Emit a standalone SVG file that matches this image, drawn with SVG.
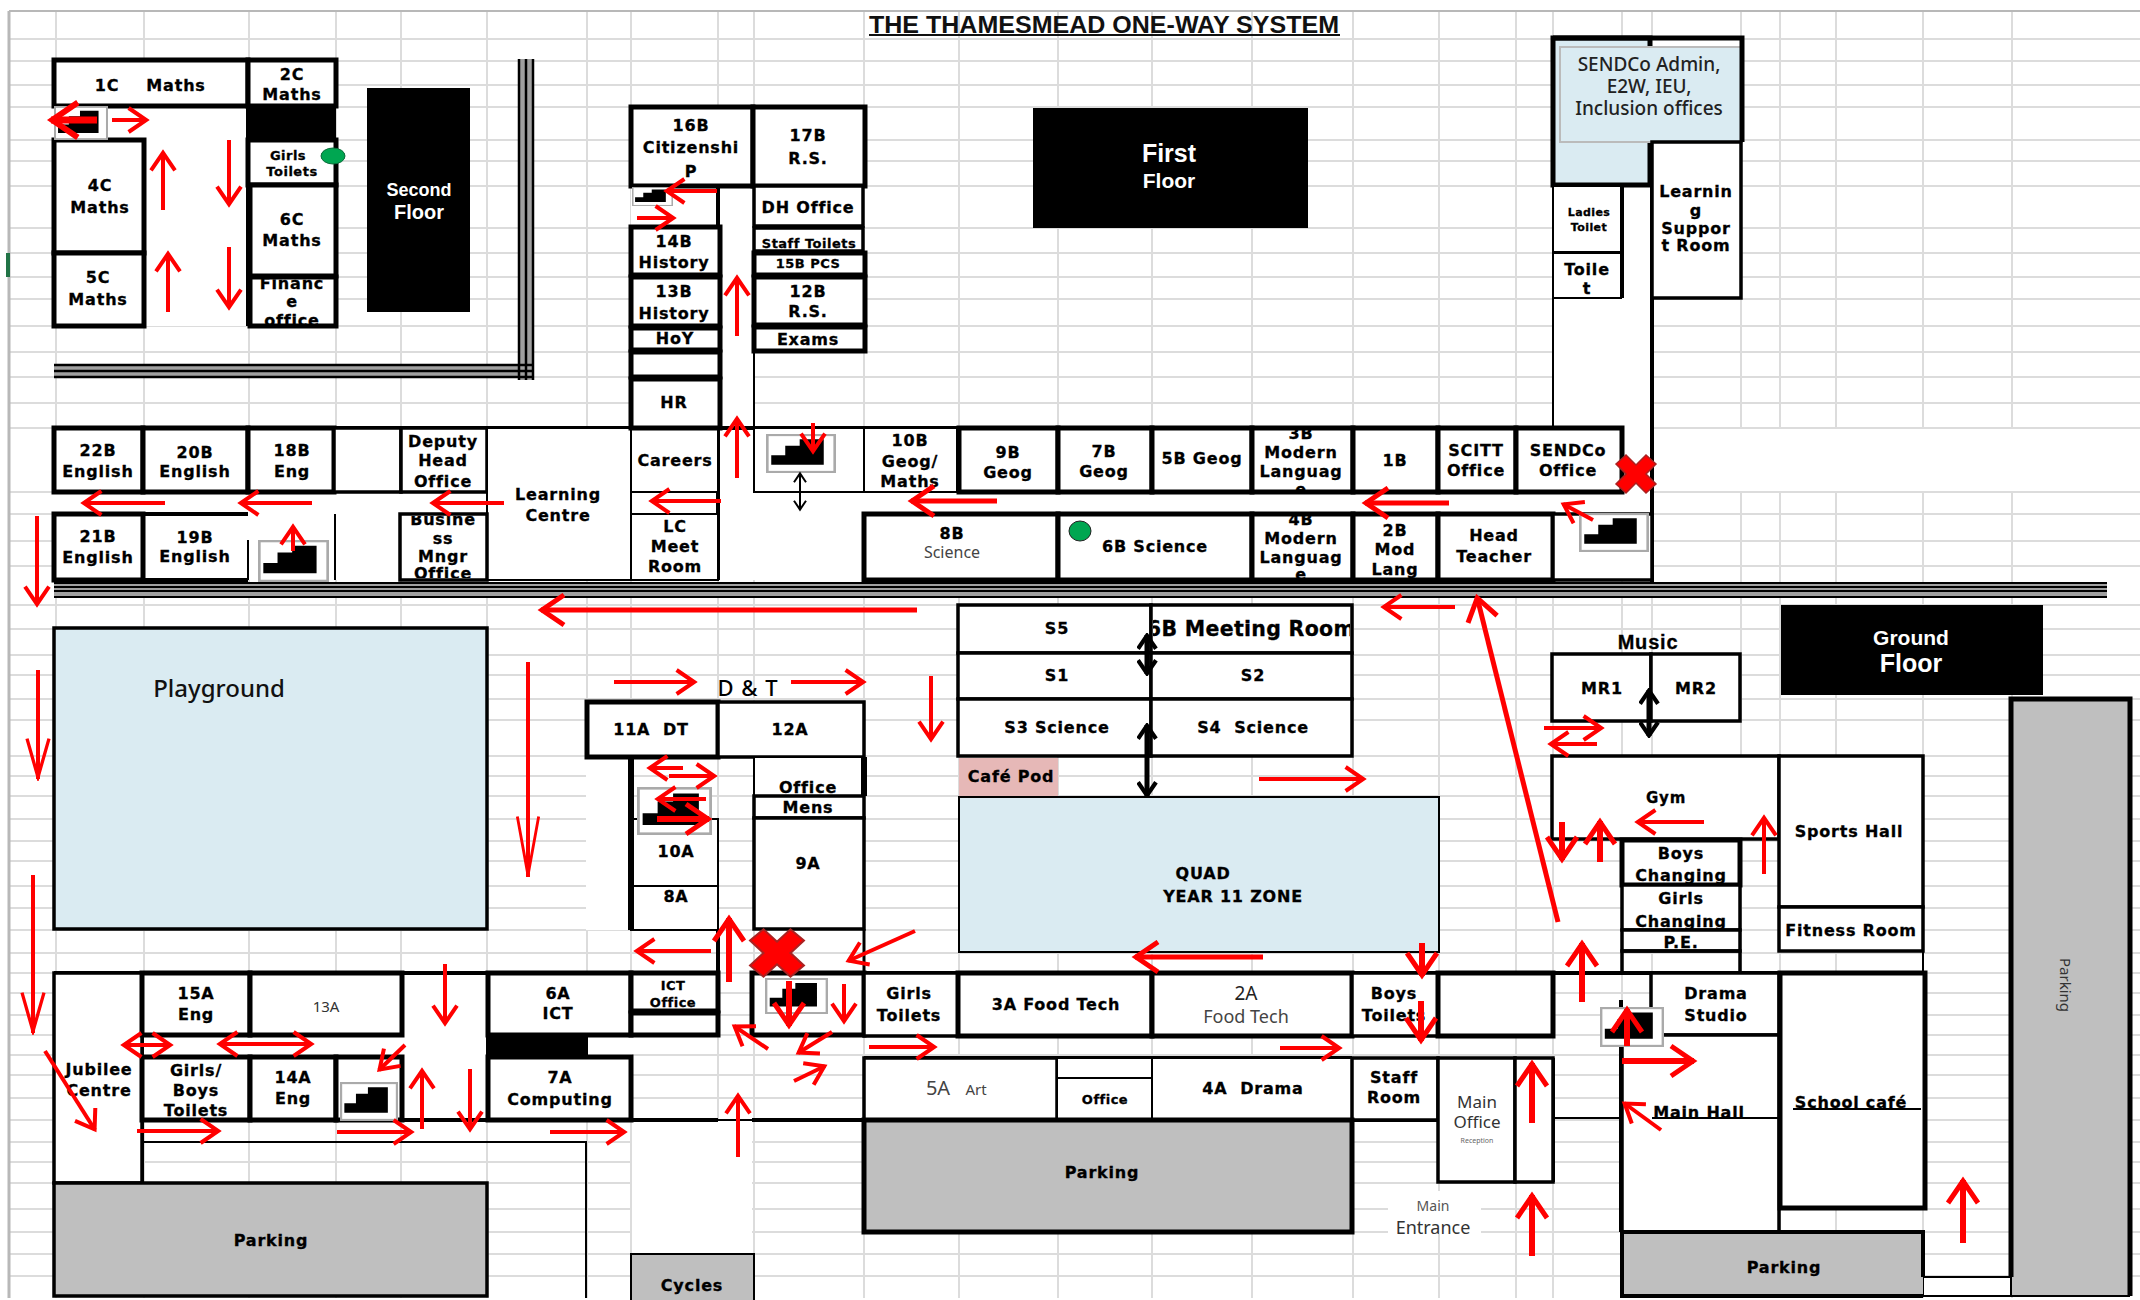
<svg xmlns="http://www.w3.org/2000/svg" width="2140" height="1300" viewBox="0 0 2140 1300">
<style>
.bg{fill:#fff}
.grid{stroke:#dcdcdc;stroke-width:2;fill:none}
rect.b,rect.m,rect.n{fill:#fff;stroke:#000}
.b{stroke-width:5}.m{stroke-width:3.5}.n{stroke-width:2}
rect.blue{fill:#daebf2}
rect.gray{fill:#bfbfbf}
rect.open{fill:none}
.wl{fill:none;stroke:#000}
text{font-family:"DejaVu Sans",sans-serif;font-weight:700;font-size:16px;letter-spacing:.8px;text-anchor:middle;dominant-baseline:central;fill:#000;stroke:#000;stroke-width:.3px}
.s{font-size:13px;letter-spacing:.5px}
.xs{font-size:11px;letter-spacing:.4px}
.r{font-family:"Noto Sans",sans-serif;font-weight:400;letter-spacing:0;fill:#333;stroke:none}
.l{font-family:"Liberation Sans",sans-serif;letter-spacing:0;fill:#fff;stroke:none}
.a{fill:none;stroke:#f00;stroke-width:4;marker-end:url(#ah)}
.a2{fill:none;stroke:#f00;stroke-width:6;marker-end:url(#ah2)}
.d{fill:none;stroke:#f00;stroke-width:4;marker-end:url(#ah);marker-start:url(#ah)}
.bd{fill:none;stroke:#000;stroke-width:2;marker-end:url(#bh);marker-start:url(#bh)}
.bd2{fill:none;stroke:#000;stroke-width:5;marker-end:url(#bh2);marker-start:url(#bh2)}
</style>
<defs>
<marker id="ah" viewBox="0 0 6 7" markerWidth="6" markerHeight="7" refX="5.2" refY="3.5" orient="auto-start-reverse"><path d="M.6.5 5,3.5 .6,6.5" fill="none" stroke="#f00" stroke-width="1"/></marker>
<marker id="ah2" viewBox="0 0 6 7" markerWidth="5" markerHeight="6" refX="5.2" refY="3.5" orient="auto-start-reverse"><path d="M.6.5 5,3.5 .6,6.5" fill="none" stroke="#f00" stroke-width="1"/></marker>
<marker id="am" viewBox="0 0 12 7" markerWidth="11" markerHeight="7" refX="11.5" refY="3.5" orient="auto"><path d="M.5.5 11,3.5 .5,6.5" fill="none" stroke="#f00" stroke-width=".9"/></marker>
<marker id="al" viewBox="0 0 18 7" markerWidth="16" markerHeight="6.5" refX="17.5" refY="3.5" orient="auto"><path d="M.5.5 17,3.5 .5,6.5" fill="none" stroke="#f00" stroke-width=".8"/></marker>
<marker id="bh" viewBox="0 0 6 7" markerWidth="6" markerHeight="7" refX="5.2" refY="3.5" orient="auto-start-reverse"><path d="M.6.5 5,3.5 .6,6.5" fill="none" stroke="#000" stroke-width="1"/></marker>
<marker id="bh2" viewBox="0 0 6 7" markerWidth="3.6" markerHeight="4.2" refX="5.2" refY="3.5" orient="auto-start-reverse"><path d="M.6.5 5,3.5 .6,6.5" fill="none" stroke="#000" stroke-width="1.4"/></marker>
<symbol id="stair" viewBox="0 0 160 110" preserveAspectRatio="none"><rect x="3" y="3" width="154" height="104" fill="#fff" stroke="#aaa" stroke-width="6"/><path d="M12 87V60H44V33H77V15H132V87Z" fill="#000"/></symbol>
<g id="cross"><path d="M-20-10-10-19 0-9 10-19 20-10 10 0 20 10 10 19 0 9-10 19-20 10-10 0Z" fill="#f00" stroke="#a22" stroke-width="1.5"/></g>
<clipPath id="c1"><rect x="250" y="279" width="86" height="45"/></clipPath>
<clipPath id="c2"><rect x="402" y="516" width="84" height="62"/></clipPath>
<clipPath id="c3"><rect x="1254" y="430" width="97" height="60"/></clipPath>
<clipPath id="c4"><rect x="1254" y="516" width="97" height="62"/></clipPath>
<clipPath id="c5"><rect x="756" y="230" width="105" height="19"/></clipPath>
<clipPath id="c6"><rect x="1153" y="607" width="197" height="44"/></clipPath>
</defs>
<rect class="bg" width="2140" height="1300"/>
<g id="sheet-grid">
<path class="grid" d="M9 11V1298M56 11V1298M144 11V1298M249 11V1298M336 11V1298M401 11V1298M487 11V1298M587 11V1298M631 11V1298M718 11V1298M754 11V1298M864 11V1298M959 11V1298M1058 11V1298M1152 11V1298M1252 11V1298M1353 11V1298M1439 11V1298M1516 11V1298M1553 11V1298M1622 11V1298M1652 11V1298M1741 11V1298M1780 11V1298M1836 11V1298M1923 11V1298M2012 11V1298"/>
<path class="grid" d="M9 39H2140M9 61H2140M9 85H2140M9 107H2140M9 140H2140M9 161H2140M9 186H2140M9 228H2140M9 253H2140M9 277H2140M9 299H2140M9 326H2140M9 352H2140M9 377H2140M9 403H2140M9 428H2140M9 492H2140M9 514H2140M9 541H2140M9 566H2140M9 605H2140M9 629H2140M9 655H2140M9 675H2140M9 699H2140M9 720H2140M9 756H2140M9 776H2140M9 796H2140M9 819H2140M9 841H2140M9 861H2140M9 886H2140M9 908H2140M9 930H2140M9 953H2140M9 973H2140M9 993H2140M9 1015H2140M9 1035H2140M9 1055H2140M9 1075H2140M9 1098H2140M9 1120H2140M9 1142H2140M9 1162H2140M9 1183H2140M9 1209H2140M9 1232H2140M9 1254H2140M9 1276H2140"/>
<path d="M9 11H2140" stroke="#b8b8b8" stroke-width="2"/><path d="M9 11V1298" stroke="#b8b8b8" stroke-width="3"/>
<rect x="6" y="253" width="4" height="24" fill="#217346"/>
<path class="bg" d="M1660 429H2140V491H1660ZM586 757H632V930H586ZM632 1120H752V1253H632ZM1925 1277H2010V1296H1925Z"/>
</g>
<g id="building-floors">
<path class="bg" d="M54 60H336V326H54ZM631 106H865V351H631ZM631 351H754V428H631ZM54 428H1652V580H54ZM1553 38H1652V428H1553ZM1652 38H1742V298H1652ZM54 973H632V1120H54Z"/>
</g>
<g id="walls">
<g id="double-wall-upper"><path d="M54 364H534V378H54ZM518 59H534V380H518Z" fill="#a0a0a0"/><path class="wl" stroke-width="2.5" d="M54 365H534M54 371H534M54 377H534M519 59V380M526 59V380M533 59V380"/></g>
<g id="double-wall-main"><rect x="54" y="582" width="2053" height="16" fill="#a0a0a0"/><path class="wl" stroke-width="2" d="M54 583H2107M54 587H2107M54 591H2107M54 597H2107"/></g>
<path class="wl" stroke-width="4" d="M144 140V326M248 106V326M54 428H1624M54 514H248M54 580H248M718 186V580M864 514H1553M957 492H1622M1652 142V582M1622 186V298M718 930V1035M54 973H718M752 973H1925M142 1035H402M402 973V1035M142 1120H718M752 1120H864M864 1058H1352M864 1120H1438M142 1057H402M488 1057H631M631 1057V1120M488 973V1120M1553 973V1036M1621 1000V1232M1553 1058V1182"/>
<path class="wl" stroke-width="6" d="M631 757V930"/>
<path class="wl" stroke-width="2" d="M754 186V428M754 428V492M248 540V580M335 514V580M1553 298V428M143 1142H586V1298M143 973V1183M1621 1118H1553M1923 951V973M1923 1277H2010M1923 1277V1296M1923 1296H2010M718 1120H752M1779 1208V1232"/>
</g>
<g id="floor-labels">
<g id="title"><text x="1104" y="25" style="font-family:'Liberation Sans',sans-serif;font-size:23px;letter-spacing:0;fill:#111;stroke:none" textLength="470" lengthAdjust="spacingAndGlyphs">THE THAMESMEAD ONE-WAY SYSTEM</text><path d="M869 35H1340" stroke="#111" stroke-width="2"/></g>
<g id="second-floor"><rect x="367" y="88" width="103" height="224" fill="#000"/><text class="l" x="419" y="190" style="font-size:18px">Second</text><text class="l" x="419" y="212" style="font-size:20px">Floor</text></g>
<g id="first-floor"><rect x="1033" y="108" width="275" height="120" fill="#000"/><text class="l" x="1169" y="153" style="font-size:25px">First</text><text class="l" x="1169" y="180" style="font-size:21px">Floor</text></g>
<g id="ground-floor"><rect x="1781" y="605" width="262" height="90" fill="#000"/><text class="l" x="1911" y="637" style="font-size:21px">Ground</text><text class="l" x="1911" y="663" style="font-size:25px">Floor</text></g>
</g>
<g id="r1C"><rect class="b" x="54" y="60" width="194" height="46"/><text x="107" y="85">1C</text><text x="176" y="85">Maths</text></g>
<g id="r2C"><rect class="b" x="248" y="60" width="88" height="46"/><text x="292" y="74">2C</text><text x="292" y="94">Maths</text></g>
<rect id="black-block" x="248" y="106" width="88" height="34" fill="#000"/>
<g id="girls-toilets-c"><rect class="b" x="248" y="140" width="88" height="45"/><text class="s" x="288" y="155">Girls</text><text class="s" x="292" y="171">Toilets</text></g>
<g id="r6C"><rect class="b" x="250" y="185" width="86" height="91"/><text x="292" y="219">6C</text><text x="292" y="240">Maths</text></g>
<g id="finance"><rect class="b" x="250" y="277" width="86" height="49"/><g clip-path="url(#c1)"><text x="292" y="283">Financ</text><text x="292" y="301">e</text><text x="292" y="320">office</text></g></g>
<g id="r4C"><rect class="b" x="54" y="140" width="90" height="113"/><text x="100" y="185">4C</text><text x="100" y="207">Maths</text></g>
<g id="r5C"><rect class="b" x="54" y="253" width="90" height="73"/><text x="98" y="277">5C</text><text x="98" y="299">Maths</text></g>
<g id="r22B"><rect class="b" x="54" y="428" width="89" height="64"/><text x="98" y="450">22B</text><text x="98" y="471">English</text></g>
<g id="r20B"><rect class="b" x="143" y="428" width="105" height="64"/><text x="195" y="452">20B</text><text x="195" y="471">English</text></g>
<g id="r18B"><rect class="b" x="248" y="428" width="86" height="64"/><text x="292" y="450">18B</text><text x="292" y="471">Eng</text></g>
<g id="blank-row1"><rect class="m" x="334" y="428" width="67" height="64"/></g>
<g id="deputy"><rect class="m" x="401" y="428" width="86" height="64"/><text x="443" y="441">Deputy</text><text x="443" y="460">Head</text><text x="443" y="481">Office</text></g>
<g id="learning-centre"><rect class="n" x="487" y="428" width="144" height="152"/><text x="558" y="494">Learning</text><text x="558" y="515">Centre</text></g>
<g id="careers"><rect class="n" x="631" y="428" width="87" height="64"/><text x="675" y="460">Careers</text></g>
<g id="r21B"><rect class="b" x="54" y="514" width="89" height="66"/><text x="98" y="536">21B</text><text x="98" y="557">English</text></g>
<g id="r19B"><path class="wl" stroke-width="4" d="M143 514V580"/><text x="195" y="537">19B</text><text x="195" y="556">English</text></g>
<g id="business"><rect class="m" x="400" y="514" width="87" height="66"/><g clip-path="url(#c2)"><text x="443" y="519">Busine</text><text x="443" y="538">ss</text><text x="443" y="556">Mngr</text><text x="443" y="573">Office</text></g></g>
<g id="lc-meet"><rect class="n" x="631" y="514" width="87" height="66"/><text x="675" y="526">LC</text><text x="675" y="546">Meet</text><text x="675" y="566">Room</text></g>
<g id="r16B"><rect class="b" x="631" y="107" width="122" height="79"/><text x="691" y="125">16B</text><text x="691" y="147">Citizenshi</text><text x="691" y="171">P</text></g>
<g id="r17B"><rect class="b" x="753" y="107" width="112" height="79"/><text x="808" y="135">17B</text><text x="808" y="158">R.S.</text></g>
<g id="dh-office"><rect class="m" x="754" y="186" width="109" height="40"/><text x="808" y="207">DH Office</text></g>
<g id="staff-toilets"><rect class="m" x="754" y="228" width="109" height="23"/><g clip-path="url(#c5)"><text class="s" x="809" y="243">Staff Toilets</text></g></g>
<g id="r15B"><rect class="b" x="754" y="253" width="111" height="22"/><text class="s" x="808" y="263">15B PCS</text></g>
<g id="r12B"><rect class="b" x="754" y="277" width="111" height="48"/><text x="808" y="291">12B</text><text x="808" y="311">R.S.</text></g>
<g id="exams"><rect class="b" x="754" y="327" width="111" height="24"/><text x="808" y="339">Exams</text></g>
<g id="r14B"><rect class="b" x="631" y="227" width="89" height="48"/><text x="674" y="241">14B</text><text x="674" y="262">History</text></g>
<g id="r13B"><rect class="b" x="631" y="277" width="89" height="49"/><text x="674" y="291">13B</text><text x="674" y="313">History</text></g>
<g id="hoy"><rect class="b" x="631" y="328" width="89" height="22"/><text x="675" y="338">HoY</text></g>
<g id="blank-b"><rect class="b" x="631" y="352" width="89" height="25"/></g>
<g id="hr"><rect class="b" x="631" y="379" width="89" height="49"/><text x="674" y="402">HR</text></g>
<g id="stair-room-b"><rect class="n" x="754" y="428" width="110" height="64"/></g>
<g id="r10B"><rect class="n" x="864" y="428" width="93" height="64"/><text x="910" y="440">10B</text><text x="910" y="461">Geog/</text><text x="910" y="481">Maths</text></g>
<g id="r9B"><rect class="b" x="959" y="428" width="99" height="64"/><text x="1008" y="452">9B</text><text x="1008" y="472">Geog</text></g>
<g id="r7B"><rect class="b" x="1058" y="428" width="94" height="64"/><text x="1104" y="451">7B</text><text x="1104" y="471">Geog</text></g>
<g id="r5B"><rect class="b" x="1152" y="428" width="100" height="64"/><text x="1202" y="458">5B Geog</text></g>
<g id="r3B"><rect class="b" x="1252" y="428" width="101" height="64"/><g clip-path="url(#c3)"><text x="1301" y="433">3B</text><text x="1301" y="452">Modern</text><text x="1301" y="471">Languag</text><text x="1301" y="489">e</text></g></g>
<g id="r1B"><rect class="b" x="1353" y="428" width="85" height="64"/><text x="1395" y="460">1B</text></g>
<g id="scitt"><rect class="b" x="1438" y="428" width="78" height="64"/><text x="1476" y="450">SCITT</text><text x="1476" y="470">Office</text></g>
<g id="sendco-office"><rect class="b" x="1516" y="428" width="106" height="64"/><text x="1568" y="450">SENDCo</text><text x="1568" y="470">Office</text></g>
<g id="r8B"><rect class="b" x="864" y="514" width="194" height="66"/><text x="952" y="533">8B</text><text class="r" x="952" y="552" style="font-size:16px;fill:#444">Science</text></g>
<g id="r6B"><rect class="b" x="1058" y="514" width="194" height="66"/><ellipse cx="1080" cy="531" rx="11" ry="10" fill="#00a651" stroke="#222"/><text x="1155" y="546">6B Science</text></g>
<g id="r4B"><rect class="b" x="1252" y="514" width="101" height="66"/><g clip-path="url(#c4)"><text x="1301" y="519">4B</text><text x="1301" y="538">Modern</text><text x="1301" y="557">Languag</text><text x="1301" y="574">e</text></g></g>
<g id="r2B"><rect class="b" x="1353" y="514" width="85" height="66"/><text x="1395" y="530">2B</text><text x="1395" y="549">Mod</text><text x="1395" y="569">Lang</text></g>
<g id="head"><rect class="b" x="1438" y="514" width="115" height="66"/><text x="1494" y="535">Head</text><text x="1494" y="556">Teacher</text></g>
<g id="stair-room-head"><rect class="m" x="1553" y="514" width="99" height="66"/></g>
<g id="send-admin"><rect class="b blue" x="1553" y="38" width="97" height="147"/><rect x="1560" y="47" width="182" height="95" fill="#daebf2" stroke="#bbb" stroke-width="2"/><path class="wl" stroke-width="5" d="M1553 38H1742V142"/><text class="r" x="1649" y="64" style="font-size:19px;font-weight:500;fill:#222">SENDCo Admin,</text><text class="r" x="1649" y="86" style="font-size:19px;font-weight:500;fill:#222">E2W, IEU,</text><text class="r" x="1649" y="108" style="font-size:19px;font-weight:500;fill:#222">Inclusion offices</text></g>
<g id="learning-support"><rect class="m" x="1652" y="142" width="89" height="156"/><text x="1696" y="191">Learnin</text><text x="1696" y="210">g</text><text x="1696" y="228">Suppor</text><text x="1696" y="245">t Room</text></g>
<g id="ladies"><rect class="n" x="1553" y="186" width="68" height="66"/><text class="xs" x="1589" y="212">Ladies</text><text class="xs" x="1589" y="227">Toilet</text></g>
<g id="gents"><rect class="n" x="1553" y="253" width="68" height="45"/><text x="1587" y="269">Toile</text><text x="1587" y="288">t</text></g>
<g id="playground"><rect class="m blue" x="54" y="628" width="433" height="301"/><text class="r" x="219" y="687" style="font-size:24px;font-weight:500;fill:#111">Playground</text></g>
<text id="dt-label" class="r" x="748" y="687" style="font-size:22px;font-weight:500;fill:#000;letter-spacing:1px">D &amp; T</text>
<g id="r11A"><rect class="b" x="587" y="702" width="131" height="55"/><text x="651" y="729" xml:space="preserve">11A  DT</text></g>
<g id="r12A"><rect class="m" x="718" y="702" width="146" height="55"/><text x="790" y="729">12A</text></g>
<g id="office-a"><rect class="n" x="754" y="757" width="110" height="39"/><path class="wl" stroke-width="6" d="M864 757V796"/><text x="808" y="787">Office</text></g>
<g id="mens"><rect class="m" x="754" y="796" width="110" height="22"/><text x="808" y="807">Mens</text></g>
<g id="r9A"><rect class="m" x="754" y="818" width="110" height="111"/><text x="808" y="863">9A</text></g>
<g id="r10A"><rect class="n" x="631" y="819" width="87" height="67"/><text x="676" y="851">10A</text></g>
<g id="r8A"><rect class="n" x="631" y="886" width="87" height="44"/><text x="676" y="896">8A</text></g>
<path id="wall-9a-ext" class="wl" stroke-width="3" d="M864 929V973"/>
<path id="wall-10a-left" class="wl" stroke-width="6" d="M631 757V930"/>
<g id="jubilee"><rect class="m" x="54" y="973" width="88" height="210"/><text x="99" y="1069">Jubilee</text><text x="99" y="1090">Centre</text></g>
<g id="r15A"><rect class="b" x="142" y="973" width="108" height="62"/><text x="196" y="993">15A</text><text x="196" y="1014">Eng</text></g>
<g id="r13A"><rect class="b" x="250" y="973" width="152" height="62"/><text class="r" x="326" y="1006" style="font-size:15px">13A</text></g>
<g id="r6A"><rect class="b" x="488" y="973" width="143" height="62"/><text x="558" y="993">6A</text><text x="558" y="1013">ICT</text></g>
<g id="ict-office"><rect class="b" x="631" y="973" width="87" height="38"/><text class="s" x="673" y="985">ICT</text><text class="s" x="673" y="1002">Office</text></g>
<g id="ict-lower"><rect class="b" x="631" y="1013" width="87" height="22"/></g>
<rect id="black-block-ground" x="488" y="1035" width="100" height="22" fill="#000"/>
<g id="toilets-gb"><rect class="b" x="142" y="1057" width="108" height="63"/><text x="196" y="1070">Girls/</text><text x="196" y="1090">Boys</text><text x="196" y="1110">Toilets</text></g>
<g id="r14A"><rect class="b" x="250" y="1057" width="86" height="63"/><text x="293" y="1077">14A</text><text x="293" y="1098">Eng</text></g>
<g id="stair-room-a"><rect class="b" x="336" y="1057" width="66" height="63"/></g>
<g id="r7A"><rect class="b" x="488" y="1057" width="143" height="63"/><text x="560" y="1077">7A</text><text x="560" y="1099">Computing</text></g>
<g id="parking-west"><rect class="m gray" x="54" y="1183" width="433" height="113"/><text x="271" y="1240">Parking</text></g>
<g id="cycles"><rect class="n gray" x="631" y="1254" width="123" height="50"/><text x="692" y="1285">Cycles</text></g>
<g id="stair-room-g"><rect class="b" x="752" y="973" width="112" height="62"/></g>
<g id="s5"><rect class="m" x="958" y="605" width="193" height="48"/><text x="1057" y="628">S5</text></g>
<g id="meeting"><rect class="m" x="1151" y="605" width="201" height="48"/><g clip-path="url(#c6)"><text x="1251" y="629" style="font-size:20.5px;letter-spacing:.3px">6B Meeting Room</text></g></g>
<g id="s1"><rect class="m" x="958" y="653" width="193" height="46"/><text x="1057" y="675">S1</text></g>
<g id="s2"><rect class="m" x="1151" y="653" width="201" height="46"/><text x="1253" y="675">S2</text></g>
<g id="s3"><rect class="m" x="958" y="699" width="193" height="57"/><text x="1057" y="727">S3 Science</text></g>
<g id="s4"><rect class="m" x="1151" y="699" width="201" height="57"/><text x="1253" y="727" xml:space="preserve">S4  Science</text></g>
<g id="cafe-pod"><rect x="959" y="758" width="99" height="39" fill="#e6b8b7"/><text x="1011" y="776">Café Pod</text></g>
<g id="quad"><rect class="n blue" x="959" y="797" width="480" height="155"/><text x="1203" y="873">QUAD</text><text x="1233" y="896">YEAR 11 ZONE</text></g>
<g id="girls-toilets-a"><rect class="m" x="864" y="973" width="94" height="63"/><text x="909" y="993">Girls</text><text x="909" y="1015">Toilets</text></g>
<g id="r3A"><rect class="b" x="958" y="973" width="194" height="63"/><text x="1056" y="1004">3A Food Tech</text></g>
<g id="r2A"><rect class="b" x="1152" y="973" width="200" height="63"/><text class="r" x="1246" y="993" style="font-size:19px;fill:#222">2A</text><text class="r" x="1246" y="1016" style="font-size:18px;fill:#444">Food Tech</text></g>
<g id="boys-toilets"><rect class="m" x="1352" y="973" width="86" height="63"/><text x="1394" y="993">Boys</text><text x="1394" y="1015">Toilets</text></g>
<g id="blank-g"><rect class="b" x="1438" y="973" width="115" height="63"/></g>
<g id="r5A"><rect class="m" x="864" y="1058" width="193" height="62"/><text class="r" x="938" y="1087" style="font-size:20px;fill:#444">5A</text><text class="r" x="976" y="1089" style="font-size:15px;fill:#444">Art</text></g>
<g id="office-g"><rect class="n" x="1057" y="1058" width="95" height="62"/><path class="wl" stroke-width="2" d="M1057 1078H1152"/><text class="s" x="1105" y="1099">Office</text></g>
<g id="r4A"><rect class="n" x="1152" y="1058" width="200" height="62"/><text x="1253" y="1088" xml:space="preserve">4A  Drama</text></g>
<g id="staff-room"><rect class="m" x="1352" y="1058" width="86" height="62"/><text x="1394" y="1077">Staff</text><text x="1394" y="1097">Room</text></g>
<g id="main-office"><rect class="m" x="1438" y="1058" width="77" height="124"/><text class="r" x="1477" y="1101" style="font-size:17px">Main</text><text class="r" x="1477" y="1121" style="font-size:17px">Office</text><text class="r" x="1477" y="1140" style="font-size:7px;fill:#666">Reception</text></g>
<g id="entrance-passage"><rect class="m" x="1515" y="1058" width="38" height="124"/></g>
<g id="parking-centre"><rect class="b gray" x="864" y="1120" width="488" height="112"/><text x="1102" y="1172">Parking</text></g>
<g id="main-entrance"><rect x="1388" y="1191" width="93" height="43" fill="#fff"/><text class="r" x="1433" y="1205" style="font-size:14px;fill:#555">Main</text><text class="r" x="1433" y="1227" style="font-size:18px">Entrance</text></g>
<g id="music"><text x="1648" y="642" style="font-size:20px;font-family:'Liberation Sans',sans-serif">Music</text></g>
<g id="mr1"><rect class="m" x="1552" y="654" width="99" height="67"/><text x="1602" y="688">MR1</text></g>
<g id="mr2"><rect class="m" x="1651" y="654" width="89" height="67"/><text x="1696" y="688">MR2</text></g>
<g id="gym"><rect class="m" x="1552" y="756" width="227" height="83"/><text x="1666" y="798" style="font-size:15px">Gym</text></g>
<g id="sports-hall"><rect class="m" x="1779" y="756" width="144" height="151"/><text x="1849" y="831">Sports Hall</text></g>
<g id="fitness"><rect class="m" x="1779" y="907" width="144" height="44"/><text x="1851" y="930">Fitness Room</text></g>
<g id="boys-changing"><rect class="b" x="1622" y="840" width="118" height="45"/><text x="1681" y="853">Boys</text><text x="1681" y="875">Changing</text></g>
<g id="girls-changing"><rect class="m" x="1622" y="885" width="118" height="45"/><text x="1681" y="898">Girls</text><text x="1681" y="921">Changing</text></g>
<g id="pe"><rect class="m" x="1622" y="930" width="118" height="21"/><text x="1681" y="942">P.E.</text></g>
<g id="pe-lower"><rect class="m open" x="1622" y="951" width="118" height="22"/></g>
<g id="drama-studio"><rect class="m" x="1651" y="973" width="128" height="62"/><text x="1716" y="993">Drama</text><text x="1716" y="1015">Studio</text></g>
<g id="main-hall"><rect class="m" x="1622" y="1035" width="157" height="197"/><path class="wl" stroke-width="2" d="M1652 1118H1779"/><text x="1699" y="1112">Main Hall</text></g>
<g id="school-cafe"><rect class="b" x="1780" y="973" width="145" height="235"/><path class="wl" stroke-width="2" d="M1793 1109H1921"/><text x="1851" y="1102">School café</text></g>
<g id="parking-hall"><rect class="gray" x="1622" y="1232" width="301" height="64"/><path class="wl" stroke-width="4" d="M1622 1232H1923V1277M1622 1232V1298M1622 1296H1923"/><text x="1784" y="1267">Parking</text></g>
<g id="parking-east"><rect class="gray" x="2011" y="699" width="119" height="597"/><path class="wl" stroke-width="5" d="M2011 1277V699H2130V1296"/><path class="wl" stroke-width="2" d="M2011 1277V1296H2130"/><text class="r" transform="translate(2066 985) rotate(90)" style="font-size:15px;fill:#333">Parking</text></g>
<g id="stairs">
<use href="#stair" x="54" y="106" width="54" height="34"/><use href="#stair" x="258" y="540" width="71" height="42"/><use href="#stair" x="632" y="187" width="41" height="19"/><use href="#stair" x="766" y="434" width="70" height="39"/><use href="#stair" x="1579" y="513" width="70" height="39"/><use href="#stair" x="637" y="787" width="75" height="48"/><use href="#stair" x="340" y="1082" width="58" height="39"/><use href="#stair" x="765" y="978" width="63" height="36"/><use href="#stair" x="1600" y="1007" width="64" height="40"/>
</g>
<g id="connectors">
<path class="a2" style="stroke-width:7" d="M97 120H51"/><path class="a" d="M112 120H147"/><path class="a" d="M163 210V152"/><path class="a" d="M229 140V205"/><path class="a" d="M168 312V253"/><path class="a" d="M229 247V308"/>
<path class="a" d="M717 191H666"/><path class="a" d="M637 218H674"/><path class="a" d="M737 336V277"/><path class="a" d="M737 478V418"/>
<path class="a" d="M165 503H83"/><path class="a" d="M312 503H240"/><path class="a" d="M504 503H432"/><path class="a" d="M721 501H651"/><path class="a" style="stroke-width:5" d="M997 501H911"/><path class="a" style="stroke-width:5" d="M1449 503H1365"/><path class="a" d="M1593 520 1563 504"/>
<path class="a" d="M293 551V526"/><path class="a" d="M813 423V452"/>
<path class="bd" d="M800 473V510"/>
<path class="a" d="M37 516V605"/>
<path class="a" style="stroke-width:5" d="M917 610H541"/>
<path style="fill:none;stroke:#f00;stroke-width:4;marker-end:url(#am)" d="M38 670V779"/>
<path style="fill:none;stroke:#f00;stroke-width:4;marker-end:url(#am)" d="M33 875V1033"/>
<path style="fill:none;stroke:#f00;stroke-width:4;marker-end:url(#al)" d="M528 662V877"/>
<path class="a" d="M614 682H695"/><path class="a" d="M791 682H864"/>
<path class="a" d="M683 768H649"/><path class="a" d="M669 776H715"/><path class="a" d="M706 799H657"/><path class="a2" d="M657 819H709"/>
<path class="a" d="M931 676V740"/><path class="a" d="M1259 779H1364"/>
<path class="a" d="M711 951H636"/><path class="a2" d="M729 982V918"/><path class="a2" d="M789 981V1026"/><path class="a" d="M844 984V1022"/><path class="a" d="M768 1049 734 1026"/><path class="a" d="M832 1032 798 1053"/><path class="a" d="M794 1081 825 1066"/><path class="a" d="M915 931 848 961"/><path class="a" d="M738 1157V1095"/>
<path class="a" d="M445 964V1024"/><path class="d" d="M123 1045H171"/><path class="d" d="M219 1044H312"/><path class="a" d="M405 1045 379 1070"/><path class="a" d="M422 1129V1070"/><path class="a" d="M470 1069V1130"/><path class="a" d="M137 1131H219"/><path class="a" d="M337 1132H412"/><path class="a" d="M550 1132H625"/><path class="a" d="M45 1051 95 1130"/>
<path class="a" d="M869 1047H935"/><path class="a" d="M1280 1048H1340"/><path class="a" style="stroke-width:5" d="M1263 957H1135"/><path class="a2" d="M1422 943V976"/><path class="a2" d="M1421 1001V1041"/><path class="a" d="M1455 607H1383"/>
<path class="a" style="stroke-width:5" d="M1558 922 1477 597"/>
<path class="a2" d="M1532 1123V1063"/><path class="a2" d="M1532 1256V1195"/><path class="a2" d="M1582 1002V943"/><path class="a2" d="M1627 1046V1009"/><path class="a2" d="M1622 1061H1694"/><path class="a" d="M1661 1130 1624 1103"/><path class="a2" d="M1963 1243V1180"/>
<path class="a" d="M1544 728H1602"/><path class="a" d="M1597 744H1550"/><path class="a2" d="M1562 822V860"/><path class="a2" d="M1600 862V821"/><path class="a" d="M1704 822H1637"/><path class="a" d="M1764 874V817"/>
<path class="bd2" d="M1147 635V674"/><path class="bd2" d="M1147 725V796"/><path class="bd2" d="M1649 690V736"/>
<use href="#cross" x="1636" y="474"/><use href="#cross" transform="translate(777 953) scale(1.35 1.25)"/>
</g>
<ellipse id="green-dot" cx="333" cy="156" rx="12" ry="8" fill="#00a651" stroke="#0b6b3a"/>
</svg>
